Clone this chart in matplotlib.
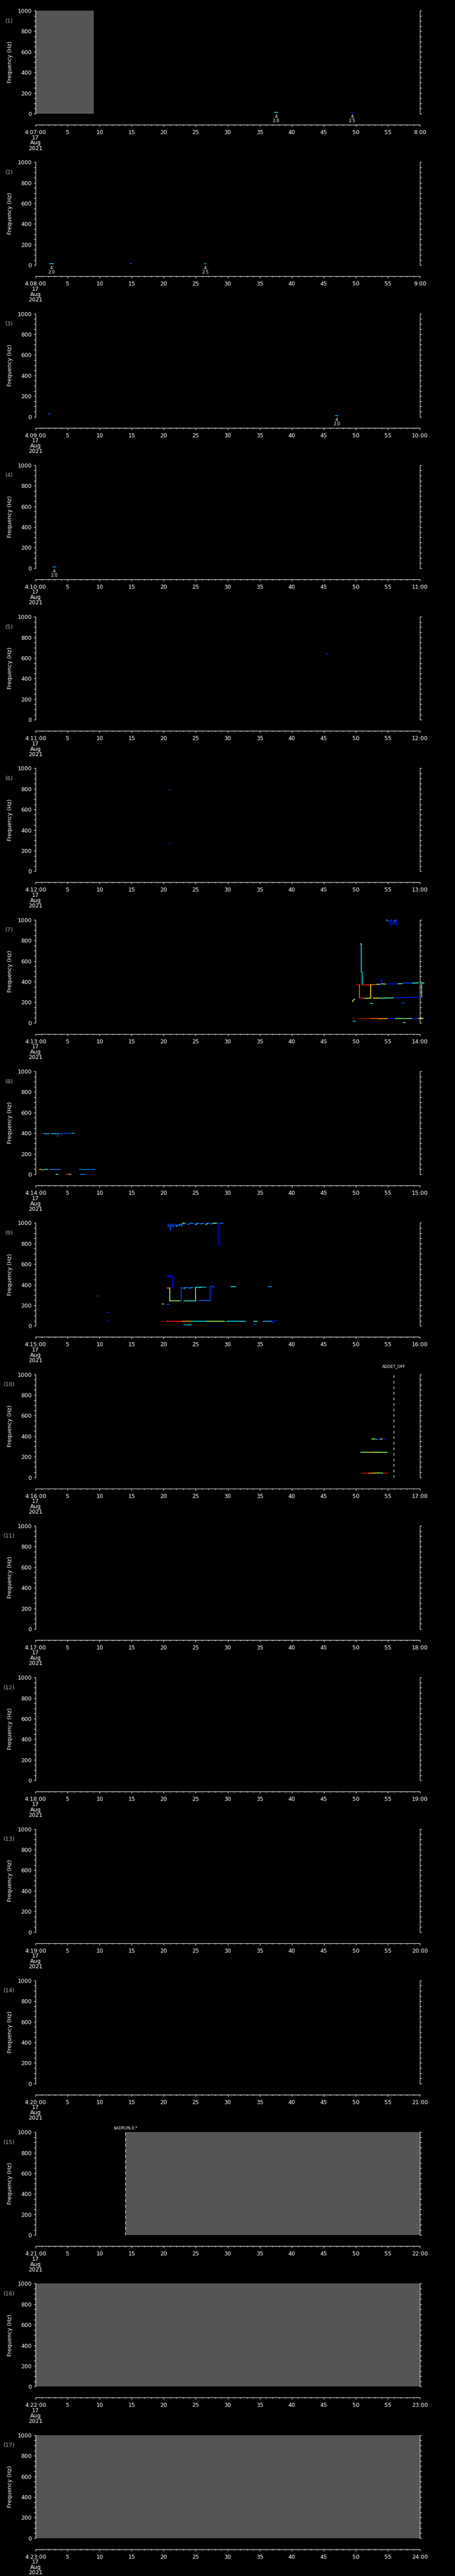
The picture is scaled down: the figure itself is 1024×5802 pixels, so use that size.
import matplotlib
matplotlib.use('Agg')
import matplotlib.pyplot as plt
from matplotlib.ticker import MultipleLocator, FixedLocator

# ---------------- data ----------------
PANEL_START_MINUTES = list(range(7, 24))        # panels cover 4:07 ... 4:23 (one minute each)
DATE_LINES = ['17', 'Aug', '2021']
Y_MAJOR = [0, 200, 400, 600, 800, 1000]
X_MAJOR = list(range(0, 61, 5))
Y_LABEL = 'Frequency (Hz)'

# no-data (gray) spans per panel number: (start s, end s)
GRAY_SPANS = {1: [(0.0, 9.1)], 15: [(14.0, 60.0)], 16: [(0.0, 60.0)], 17: [(0.0, 60.0)]}
# event markers per panel: (time s, label)
EVENTS = {10: [(55.93, 'ADDET_OFF')], 15: [(14.0, '$ADRUN,0,*')]}
# two-line numeric annotations under short marks
MARK_LABELS = {1: [(37.55, '4', '2.0'), (49.4, '4', '2.5')],
               2: [(2.5, '4', '2.0'), (26.5, '4', '2.5')],
               3: [(47.0, '4', '2.0')],
               4: [(2.9, '4', '2.0')]}

# tracks: (times s, freqs Hz, jet colour value(s))
PANEL1_TRACKS = [([37.3, 37.8], [13, 13], 0.35), ([49.2, 49.6], [13, 13], 0.15)]
PANEL2_TRACKS = [([2.2, 2.8], [15, 15], 0.35), ([14.8, 15.0], [15, 15], 0.2), ([26.4, 26.6], [15, 15], 0.35)]
PANEL3_TRACKS = [([2.0, 2.3], [30, 30], 0.2), ([46.8, 47.2], [13, 13], 0.3)]
PANEL4_TRACKS = [([2.7, 3.1], [13, 13], 0.3)]
PANEL5_TRACKS = [([45.4, 45.6], [640, 640], 0.15)]
PANEL6_TRACKS = [([20.85, 21.0], [790, 790], 0.2), ([20.9, 21.05], [270, 270], 0.15)]

PANEL7_TRACKS = [
    ([54.8, 55.0, 55.26, 55.4, 55.45, 55.55, 55.7, 55.95, 56.05, 56.2, 56.3, 56.3],
     [998, 990, 988, 995, 945, 998, 972, 962, 990, 998, 998, 950],
     [0.35, 0.2, 0.15, 0.1, 0.1, 0.15, 0.12, 0.2, 0.3, 0.15, 0.15]),
    ([50.7, 50.85, 50.85, 51.0, 51.0], [765, 765, 497, 490, 368], 0.35),
    ([50.0, 50.6], [369, 369], 0.92),
    ([51.0, 52.3, 53.3, 53.9, 53.9, 54.05, 54.05, 54.7, 56.6, 57.3, 57.5, 57.5, 57.8, 58.8, 59.8],
     [368, 370, 373, 373, 420, 410, 378, 376, 379, 381, 381, 393, 385, 385, 388],
     [0.88, 0.8, 0.5, 0.1, 0.1, 0.1, 0.65, 0.15, 0.5, 0.2, 0.2, 0.18, 0.18, 0.4]),
    ([50.6, 50.6, 51.3, 51.8, 52.3, 52.3], [369, 239, 239, 238, 240, 371], [0.8, 0.9, 0.55, 0.62, 0.68]),
    ([52.7, 53.6, 54.7, 55.9, 59.9, 60.25, 60.25, 60.6], [239, 239, 241, 243, 250, 250, 388, 388],
     [0.65, 0.42, 0.48, 0.15, 0.15, 0.42, 0.42]),
    ([49.6, 49.8], [40, 40], 0.95),
    ([50.45, 52.2, 53.6, 55.0, 56.2, 58.8, 59.8, 60.5], [40, 40, 40, 42, 44, 44, 44, 44],
     [0.95, 0.8, 0.7, 0.15, 0.5, 0.15, 0.62]),
    ([49.6, 49.9], [16, 16], 0.35),
    ([57.4, 57.7], [2, 2], 0.4),
    ([49.5, 49.6, 49.8], [205, 220, 230], 0.6),
    ([52.3, 52.6], [190, 190], 0.4),
    ([57.2, 57.6], [192, 192], 0.2),
]

PANEL8_TRACKS = [
    ([1.25, 1.7, 2.1], [398, 393, 396], 0.3),
    ([2.5, 3.3], [397, 395], 0.32),
    ([3.5, 3.5, 3.6, 4.2], [368, 400, 395, 396], 0.2),
    ([4.5, 5.3], [400, 397], 0.2),
    ([5.55, 6.05], [398, 400], 0.3),
    ([0.62, 0.85], [46, 46], 0.65),
    ([1.05, 1.2], [43, 43], 0.55),
    ([1.4, 1.9], [46, 46], 0.38),
    ([2.3, 3.8], [46, 46], 0.25),
    ([6.9, 9.2], [46, 46], 0.25),
    ([3.2, 3.5], [2, 2], 0.42),
    ([4.85, 5.1], [2, 2], 0.9),
    ([5.3, 5.5], [2, 2], 0.55),
    ([7.0, 7.8], [2, 2], 0.25),
]

PANEL9_TRACKS = [
    ([20.55, 20.7, 20.85, 21.0, 21.1, 21.2, 21.4, 21.6, 21.8, 22.0, 22.2, 22.4, 22.6, 22.8, 23.0,
      23.4, 23.8, 24.2, 24.6, 25.0, 25.4, 25.8, 26.2, 26.6, 27.0, 27.4, 27.8, 28.2, 28.5, 28.5],
     [985, 965, 990, 975, 926, 990, 975, 968, 990, 965, 985, 975, 990, 970, 998,
      995, 983, 998, 995, 985, 998, 990, 998, 985, 998, 990, 998, 995, 998, 782],
     [0.15, 0.2, 0.15, 0.25, 0.15, 0.2, 0.3, 0.15, 0.2, 0.3, 0.15, 0.35, 0.2, 0.3, 0.6,
      0.15, 0.25, 0.3, 0.15, 0.4, 0.2, 0.3, 0.15, 0.6, 0.2, 0.3, 0.65, 0.3, 0.12]),
    ([28.75, 29.3], [995, 998], 0.25),
    ([20.55, 20.7, 20.8, 20.95, 21.1, 21.35, 21.35], [480, 490, 474, 488, 478, 485, 369], 0.12),
    ([20.55, 20.9, 20.93, 20.93, 22.65, 22.73, 22.73, 23.2, 23.5, 24.0, 24.5],
     [368, 368, 368, 244, 244, 244, 372, 365, 374, 368, 372],
     [0.8, 0.8, 0.6, 0.55, 0.2, 0.18, 0.2, 0.35, 0.2, 0.3]),
    ([23.15, 24.87, 24.98, 24.98, 25.6, 26.1, 26.6], [245, 245, 245, 376, 372, 378, 374],
     [0.4, 0.5, 0.5, 0.35, 0.45, 0.3]),
    ([25.45, 27.24, 27.24, 27.6, 27.9], [248, 248, 378, 385, 376], [0.22, 0.18, 0.2, 0.2]),
    ([30.5, 31.2], [380, 380], 0.35),
    ([36.3, 36.8], [380, 380], 0.25),
    ([9.65, 9.8], [291, 291], 0.2),
    ([19.75, 19.95], [212, 212], 0.55),
    ([20.55, 20.8], [208, 208], 0.2),
    ([11.2, 11.4], [131, 131], 0.15),
    ([11.25, 11.4], [44, 44], 0.15),
    ([19.78, 19.9], [43, 44], 0.9),
    ([20.4, 22.96, 24.49, 26.78, 29.46], [43, 43, 43, 43, 43], [0.88, 0.72, 0.35, 0.55]),
    ([29.84, 32.71], [45, 45], 0.35),
    ([34.05, 34.6], [44, 44], 0.4),
    ([35.5, 36.9, 37.0, 37.1, 37.5], [44, 44, 30, 47, 47], [0.3, 0.15, 0.15, 0.15]),
    ([23.2, 24.2], [10, 10], 0.3),
    ([34.05, 34.25], [10, 10], 0.2),
]

PANEL10_TRACKS = [
    ([52.5, 53.0, 53.4, 53.8, 54.2, 54.6], [372, 372, 368, 372, 373, 371], [0.55, 0.3, 0.15, 0.6, 0.15]),
    ([50.8, 51.5, 52.3, 53.1, 53.9, 54.85], [244, 244, 244, 244, 244, 244], [0.45, 0.7, 0.55, 0.62, 0.5]),
    ([50.85, 52.0, 52.7, 53.5, 54.3, 54.85], [42, 42, 42, 44, 42, 42], [0.92, 0.75, 0.68, 0.5, 0.9]),
]

TRACKS = {1: PANEL1_TRACKS, 2: PANEL2_TRACKS, 3: PANEL3_TRACKS, 4: PANEL4_TRACKS,
          5: PANEL5_TRACKS, 6: PANEL6_TRACKS, 7: PANEL7_TRACKS, 8: PANEL8_TRACKS,
          9: PANEL9_TRACKS, 10: PANEL10_TRACKS}

# ---------------- layout / style ----------------
W, H = 1024, 5802
N = len(PANEL_START_MINUTES)
PITCH = H / N
GRAY = '#555555'
FG = 'white'
FONT = 'DejaVu Sans'
jet = plt.get_cmap('jet')
EVENT_RISE = {'ADDET_OFF': 13.0, '$ADRUN,0,*': 6.5}

plt.rcParams['font.family'] = [FONT]
fig = plt.figure(figsize=(W / 100, H / 100), dpi=100, facecolor='black')


def fx(px):
    return px / W


def fy(py):
    return 1 - py / H


def draw_track(ax, t, f, c):
    cols = c if isinstance(c, (list, tuple)) else [c]
    for k in range(len(t) - 1):
        ax.plot(t[k:k + 2], f[k:k + 2], color=jet(cols[k % len(cols)]), lw=1.3,
                solid_capstyle='projecting', clip_on=False, zorder=3)


for i, minute in enumerate(PANEL_START_MINUTES):
    p = i + 1
    o = i * PITCH
    ax = fig.add_axes([fx(80), fy(256 + o), 865 / W, 232 / H])
    ax.set_facecolor('black')
    ax.set_xlim(0, 60)
    ax.set_ylim(0, 1000)
    for s in ('top', 'bottom'):
        ax.spines[s].set_visible(False)
    for s in ('left', 'right'):
        ax.spines[s].set_color(FG)
        ax.spines[s].set_linewidth(0.8)
    ax.set_xticks([])
    ax.yaxis.set_major_locator(FixedLocator(Y_MAJOR))
    ax.yaxis.set_minor_locator(MultipleLocator(50))
    ax.tick_params(axis='y', which='both', direction='out', left=True, right=True,
                   labelleft=True, labelright=False, colors=FG, width=0.8,
                   length=2.9, labelsize=9, pad=3.5)

    for (t0, t1) in GRAY_SPANS.get(p, []):
        ax.axvspan(t0, t1, color=GRAY, lw=0, zorder=0.5)
    for (t, f, c) in TRACKS.get(p, []):
        draw_track(ax, t, f, c)
    for (t, l1, l2) in MARK_LABELS.get(p, []):
        ax.annotate(l1, xy=(t, 0), xycoords=('data', 'axes fraction'), xytext=(0, -5),
                    textcoords='offset points', ha='center', va='center', fontsize=7,
                    color=FG, annotation_clip=False)
        ax.annotate(l2, xy=(t, 0), xycoords=('data', 'axes fraction'), xytext=(0, -11.5),
                    textcoords='offset points', ha='center', va='center', fontsize=7,
                    color=FG, annotation_clip=False)
    for (t, lab) in EVENTS.get(p, []):
        ax.axvline(t, color=FG, lw=0.9, dashes=(4.5, 5.5), zorder=4)
        ax.annotate(lab, xy=(t, 1), xycoords=('data', 'axes fraction'),
                    xytext=(0, EVENT_RISE.get(lab, 10)), textcoords='offset points',
                    ha='center', va='center', fontsize=6.5, color=FG, annotation_clip=False)

    # separate time axis below the panel
    axt = fig.add_axes([fx(80), fy(281 + o), 865 / W, 0.2 / H])
    axt.patch.set_visible(False)
    for s in ('top', 'left', 'right'):
        axt.spines[s].set_visible(False)
    axt.spines['bottom'].set_color(FG)
    axt.spines['bottom'].set_linewidth(0.8)
    axt.set_yticks([])
    axt.set_xlim(0, 60)
    axt.xaxis.set_major_locator(FixedLocator(X_MAJOR))
    axt.xaxis.set_minor_locator(MultipleLocator(1))
    labels = ['4:%02d:00' % minute] + [str(v) for v in X_MAJOR[1:-1]] + ['%d:00' % (minute + 1)]
    axt.set_xticklabels(labels)
    axt.tick_params(axis='x', which='major', direction='out', length=2.9, width=0.8,
                    colors=FG, labelsize=9, pad=5.0)
    axt.tick_params(axis='x', which='minor', direction='out', length=1.5, width=0.8, colors=FG)

    for k, line in enumerate(DATE_LINES):
        fig.text(fx(80), fy(310 + 12 * k + o), line, ha='center', va='center',
                 color=FG, fontsize=9)

    fig.text(fx(21), fy(47 + o), '(%d)' % p, ha='center', va='center', color='#aaaaaa', fontsize=9)
    fig.text(fx(23), fy(140 + o), Y_LABEL, ha='center', va='center', rotation=90,
             color=FG, fontsize=9)

fig.savefig('out.png', dpi=100, facecolor='black')
